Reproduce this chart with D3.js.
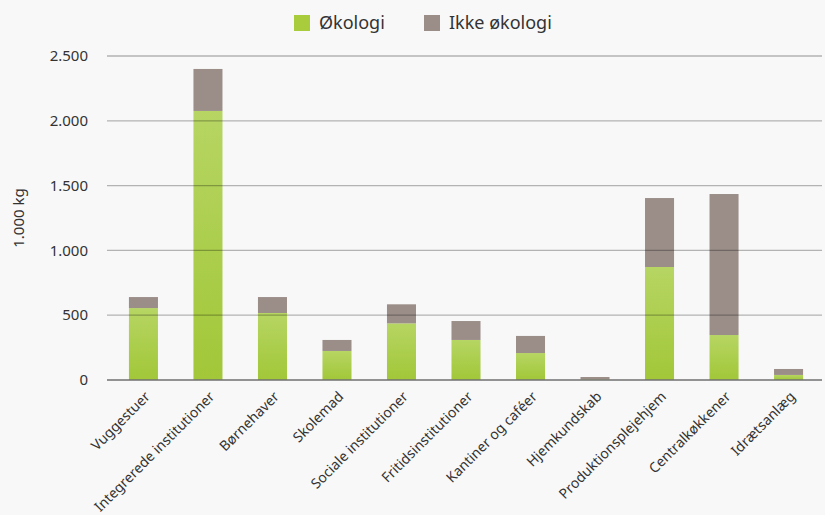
<!DOCTYPE html>
<html>
<head>
<meta charset="utf-8">
<script src="https://cdn.jsdelivr.net/npm/d3@7.9.0/dist/d3.min.js"></script>
<style>
  body { margin: 0; background: #f8f8f8; }
  svg { display: block; font-family: "Noto Sans", "Open Sans", sans-serif; }
</style>
</head>
<body>
<svg id="chart" width="825" height="515"></svg>
<script>
const categories = ['Vuggestuer', 'Integrerede institutioner', 'Børnehaver', 'Skolemad',
  'Sociale institutioner', 'Fritidsinstitutioner', 'Kantiner og caféer', 'Hjemkundskab',
  'Produktionsplejehjem', 'Centralkøkkener', 'Idrætsanlæg'];
const oekologi = [555, 2076, 517, 224, 437, 309, 208, 5, 872, 347, 39];
const ikkeOekologi = [85, 324, 123, 85, 147, 146, 132, 18, 532, 1088, 46];
const yTicks = [0, 500, 1000, 1500, 2000, 2500];
const seriesNames = ['Økologi', 'Ikke økologi'];

const svg = d3.select('#chart');
const margin = { left: 107, right: 3, top: 56, bottom: 135 };
const width = 825, height = 515;

const x = d3.scaleBand().domain(categories)
  .range([margin.left, width]).paddingInner(0.55).paddingOuter(0.34);
const y = d3.scaleLinear().domain([0, 2500]).range([height - margin.bottom, margin.top]);

const defs = svg.append('defs');
const grad = defs.append('linearGradient').attr('id', 'green')
  .attr('x1', 0).attr('y1', 0).attr('x2', 0).attr('y2', 1);
grad.append('stop').attr('offset', '0%').attr('stop-color', '#b6d563');
grad.append('stop').attr('offset', '100%').attr('stop-color', '#a2c738');

const colors = ['url(#green)', '#9b8e89'];

const rows = categories.map((c, i) => ({ cat: c, a: oekologi[i], b: ikkeOekologi[i] }));
const stacked = d3.stack().keys(['a', 'b'])(rows);

// bars
stacked.forEach((layer, li) => {
  svg.append('g').selectAll('rect').data(layer).join('rect')
    .attr('x', d => x(d.data.cat))
    .attr('width', x.bandwidth())
    .attr('y', d => y(d[1]))
    .attr('height', d => y(d[0]) - y(d[1]))
    .attr('fill', colors[li]);
});

// gridlines over bars
const grid = svg.append('g');
grid.selectAll('line').data(yTicks.filter(t => t > 0)).join('line')
  .attr('x1', margin.left).attr('x2', width - margin.right)
  .attr('y1', d => y(d)).attr('y2', d => y(d))
  .attr('stroke', '#000').attr('stroke-opacity', 0.28).attr('stroke-width', 1.3);
svg.append('line')
  .attr('x1', margin.left).attr('x2', width - margin.right)
  .attr('y1', y(0)).attr('y2', y(0))
  .attr('stroke', '#707070').attr('stroke-width', 1.5);

// y axis labels
const fmt = d3.formatLocale({ decimal: ',', thousands: '.', grouping: [3], currency: ['', ''] }).format(',');
svg.append('g').selectAll('text').data(yTicks).join('text')
  .attr('x', 88).attr('y', d => y(d)).attr('dy', '0.35em')
  .attr('text-anchor', 'end').attr('font-size', 15).attr('fill', '#333')
  .text(d => fmt(d));

svg.append('text')
  .attr('transform', `translate(24,${(y(0) + y(2500)) / 2}) rotate(-90)`)
  .attr('text-anchor', 'middle').attr('font-size', 15).attr('fill', '#333')
  .text('1.000 kg');

// x labels
svg.append('g').selectAll('text').data(categories).join('text')
  .attr('transform', d => `translate(${x(d) + x.bandwidth() / 2 + 4},${y(0) + 14}) rotate(-45)`)
  .attr('text-anchor', 'end').attr('font-size', 14).attr('fill', '#333')
  .attr('dy', '0.35em')
  .text(d => d);

// legend
const legendX = [294, 424];
const lg = svg.append('g');
seriesNames.forEach((name, i) => {
  lg.append('rect').attr('x', legendX[i]).attr('y', 15).attr('width', 16).attr('height', 16)
    .attr('fill', i === 0 ? '#a8cc3c' : '#9b8e89');
  lg.append('text').attr('x', legendX[i] + 25).attr('y', 23).attr('dy', '0.35em')
    .attr('font-size', 18).attr('fill', '#333').text(name);
});
</script>
</body>
</html>
